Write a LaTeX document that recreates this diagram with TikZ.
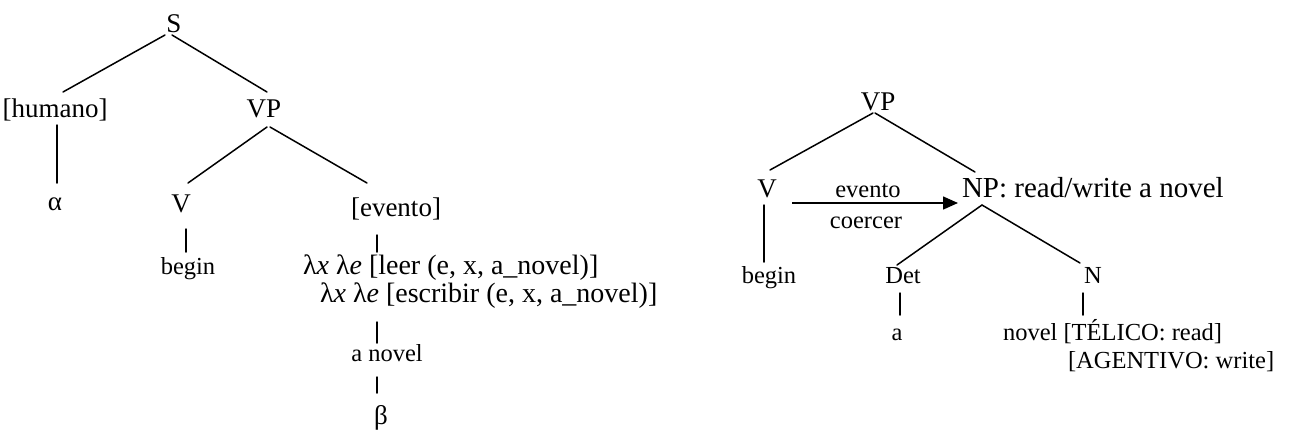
\documentclass[tikz,border=0pt]{standalone}
\usepackage{fontspec}
\setmainfont{Liberation Serif}
\usetikzlibrary{arrows.meta}
\tikzset{
  big/.style={inner sep=0pt, outer sep=0pt, font=\fontsize{27}{30}\selectfont},
  lam/.style={inner sep=0pt, outer sep=0pt, font=\fontsize{28}{31}\selectfont},
  small/.style={inner sep=0pt, outer sep=0pt, font=\fontsize{24.5}{27}\selectfont},
  branch/.style={line width=1.5pt, line cap=round},
  coerce/.style={line width=1.5pt, -{Triangle[length=15pt,width=13pt]}}
}
\begin{document}
\begin{tikzpicture}[x=1pt,y=-1pt]
\fill[white] (0,0) rectangle (1289,432);
\useasboundingbox (0,0) rectangle (1289,432);
% ---- left tree ----
\node[big, anchor=base] (S) at (174,32) {S};
\node[big, anchor=base] (hum) at (55,117) {[humano]};
\node[big, anchor=base] (VPa) at (264,117) {VP};
\node[big, anchor=base] (alpha) at (55,210) {α};
\node[big, anchor=base] (Va) at (181,212) {V};
\node[big, anchor=base] (ev) at (396,216) {[evento]};
\node[small, anchor=base] (begina) at (188,274) {begin};
\node[lam, anchor=base west] (lamA) at (303,274) {λ\textit{x} λ\textit{e} [leer (e, x, a\_novel)]};
\node[lam, anchor=base west] (lamB) at (320,302) {λ\textit{x} λ\textit{e} [escribir (e, x, a\_novel)]};
\node[small, anchor=base] (anov) at (387,361) {a novel};
\node[big, anchor=base] (beta) at (381,424) {β};
\draw[branch] ([shift={(-9,3)}]S.base) -- ([shift={(8,-25)}]hum.base);
\draw[branch] ([shift={(-2,3)}]S.base) -- ([shift={(3,-25)}]VPa.base);
\draw[branch] ([shift={(2,8)}]hum.base) -- ([shift={(2,-27)}]alpha.base);
\draw[branch] ([shift={(3,10)}]VPa.base) -- ([shift={(7,-29)}]Va.base);
\draw[branch] ([shift={(6,10)}]VPa.base) -- ([shift={(-29,-33)}]ev.base);
\draw[branch] ([shift={(5,17)}]Va.base) -- ([shift={(-2,-22)}]begina.base);
\draw[branch] ([shift={(-19,19)}]ev.base) -- ([shift={(74,-22)}]lamA.base west);
\draw[branch] ([shift={(57,20)}]lamB.base west) -- ([shift={(-10,-18)}]anov.base);
\draw[branch] ([shift={(-10,16)}]anov.base) -- ([shift={(-4,-31)}]beta.base);
% ---- right tree ----
\node[big, anchor=base] (VPb) at (878,110) {VP};
\node[big, anchor=base] (Vb) at (767,197) {V};
\node[big, anchor=base west, font=\fontsize{29}{32}\selectfont] (NP) at (962,197) {NP: read/write a novel};
\node[small, anchor=base] (evc) at (868,197) {evento};
\node[small, anchor=base] (coe) at (866,228) {coercer};
\node[small, anchor=base] (beginb) at (769,283) {begin};
\node[small, anchor=base] (Det) at (903,283) {Det};
\node[small, anchor=base] (N) at (1093,283) {N};
\node[small, anchor=base] (a) at (897,340) {a};
\node[small, anchor=base west] (novel) at (1003,340) {novel [TÉLICO: read]};
\node[small, anchor=base west] (agent) at (1068,368) {[AGENTIVO: write]};
\draw[branch] ([shift={(-5,3)}]VPb.base) -- ([shift={(3,-27)}]Vb.base);
\draw[branch] ([shift={(-3,3)}]VPb.base) -- ([shift={(13,-25)}]NP.base west);
\draw[branch] ([shift={(-3,8)}]Vb.base) -- ([shift={(-5,-21)}]beginb.base);
\draw[coerce] ([shift={(25,6)}]Vb.base) -- ([shift={(-4,6)}]NP.base west);
\draw[branch] ([shift={(20,8)}]NP.base west) -- ([shift={(-6,-18)}]Det.base);
\draw[branch] ([shift={(20,8)}]NP.base west) -- ([shift={(-13,-20)}]N.base);
\draw[branch] ([shift={(-3,10)}]Det.base) -- ([shift={(3,-25)}]a.base);
\draw[branch] ([shift={(-10,10)}]N.base) -- ([shift={(80,-25)}]novel.base west);
\end{tikzpicture}
\end{document}
